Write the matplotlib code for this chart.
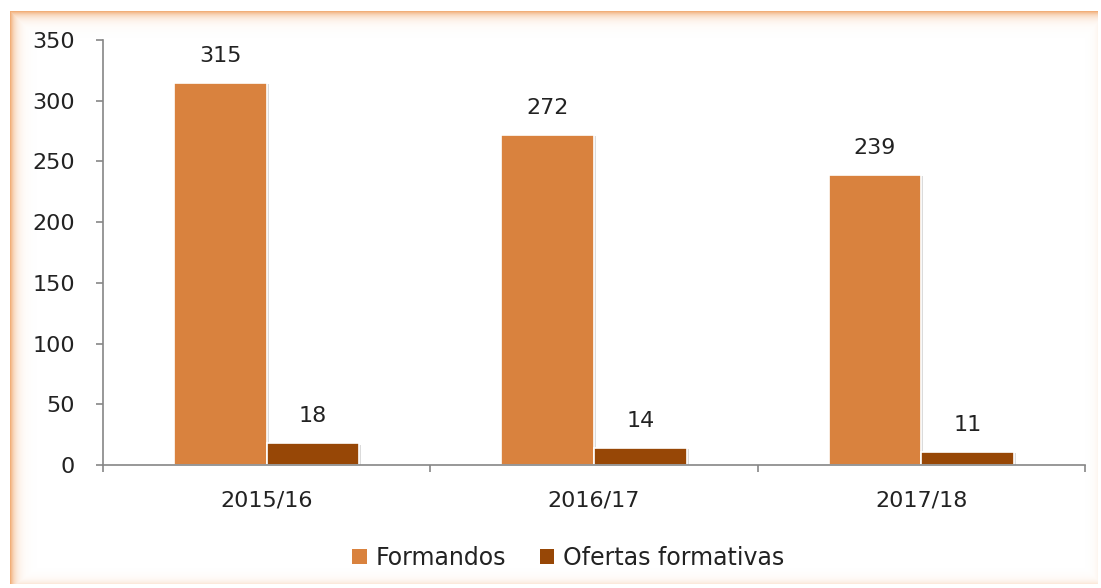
import numpy as np
import matplotlib.pyplot as plt
import matplotlib.patheffects as pe

years = ['2015/16', '2016/17', '2017/18']
formandos = [315, 272, 239]
ofertas = [18, 14, 11]
labels = ['Formandos', 'Ofertas formativas']
colors = ['#D9823E', '#974706']

plt.rcParams['font.family'] = ['DejaVu Sans']
fs = 16

W, H = 1101, 588
fig = plt.figure(figsize=(W / 100, H / 100), dpi=100)

# soft orange glow frame behind everything
bg = fig.add_axes([0, 0, 1, 1], zorder=-5)
bg.set_axis_off()
yy, xx = np.mgrid[0:H, 0:W]
L, T, R, B = 10, 11, 1097, 583
inside = (xx >= L) & (xx <= R) & (yy >= T) & (yy <= B)
a = np.zeros((H, W))
a = np.maximum(a, 0.75 * np.exp(-(yy - T) / 5.0))
a = np.maximum(a, 0.75 * np.exp(-(xx - L) / 5.0))
a = np.maximum(a, 0.2 * np.exp(-(B - yy) / 4.0))
a = np.maximum(a, 0.08 * np.exp(-(R - xx) / 4.0))
a[~inside] = 0
img = np.zeros((H, W, 4))
img[..., 0] = 0.93
img[..., 1] = 0.58
img[..., 2] = 0.30
img[..., 3] = a
bg.imshow(img, extent=[0, W, H, 0], aspect='auto')
bg.set_xlim(0, W)
bg.set_ylim(H, 0)

ax = fig.add_axes([103 / W, 1 - 465 / H, (1085 - 103) / W, (465 - 40) / H])
ax.patch.set_alpha(0)

x = np.arange(len(years))
w = 0.283
shadow = [pe.SimplePatchShadow(offset=(1.5, -1), shadow_rgbFace='#999999', alpha=0.35), pe.Normal()]
b1 = ax.bar(x - w / 2, formandos, w, color=colors[0], edgecolor='white', linewidth=1.2,
            label=labels[0], path_effects=shadow)
b2 = ax.bar(x + w / 2, ofertas, w, color=colors[1], edgecolor='white', linewidth=1.2,
            label=labels[1], path_effects=shadow)

for bars in (b1, b2):
    for rect in bars:
        h = rect.get_height()
        ax.annotate(f'{h:.0f}', (rect.get_x() + rect.get_width() / 2, h),
                    xytext=(0, 12), textcoords='offset points',
                    ha='center', va='bottom', fontsize=fs, color='#222222')

ax.set_xlim(-0.5, 2.5)
ax.set_ylim(0, 350)
ax.set_yticks(range(0, 351, 50))
ax.set_xticks(x)
ax.set_xticklabels(years)
ax.set_xticks([-0.5, 0.5, 1.5, 2.5], minor=True)

for s in ('top', 'right'):
    ax.spines[s].set_visible(False)
for s in ('left', 'bottom'):
    ax.spines[s].set_color('#868686')
    ax.spines[s].set_linewidth(1.2)

ax.tick_params(axis='y', length=5, width=1.2, color='#868686', pad=15,
               labelsize=fs, labelcolor='#222222')
ax.tick_params(axis='x', which='major', length=0, pad=18, labelsize=fs, labelcolor='#222222')
ax.tick_params(axis='x', which='minor', length=5, width=1.2, color='#868686')

leg = ax.legend(loc='upper center', bbox_to_anchor=(0.474, -0.14), ncol=2, frameon=False,
                fontsize=17, handlelength=0.6, handleheight=0.6, handletextpad=0.4,
                columnspacing=1.4, labelcolor='#222222')
for hnd in leg.legend_handles:
    hnd.set_path_effects([])
    hnd.set_linewidth(0)

fig.savefig('out.png', dpi=100)
